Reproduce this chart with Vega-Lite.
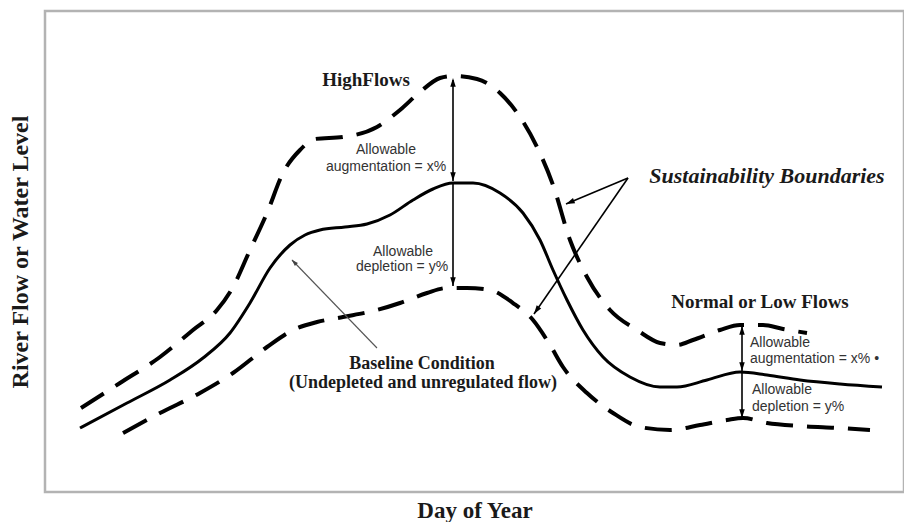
{
  "$schema": "https://vega.github.io/schema/vega-lite/v6.json",
  "width": 859,
  "height": 481,
  "autosize": {"type": "none"},
  "padding": {"left": 45, "top": 11, "right": 0, "bottom": 30},
  "background": "white",
  "config": {"view": {"stroke": "#b3b3b3", "strokeWidth": 2.5}},
  "datasets": {
    "baseline": [
      {"t": 35, "v": 64}, {"t": 82, "v": 89}, {"t": 125, "v": 112}, {"t": 158, "v": 134},
      {"t": 185, "v": 159}, {"t": 205, "v": 189}, {"t": 225, "v": 224}, {"t": 245, "v": 247},
      {"t": 260, "v": 257}, {"t": 275, "v": 262}, {"t": 300, "v": 265}, {"t": 322, "v": 268},
      {"t": 345, "v": 277}, {"t": 368, "v": 292}, {"t": 388, "v": 303}, {"t": 408, "v": 309},
      {"t": 428, "v": 309}, {"t": 455, "v": 299}, {"t": 478, "v": 279}, {"t": 495, "v": 252},
      {"t": 508, "v": 222}, {"t": 522, "v": 192}, {"t": 538, "v": 162}, {"t": 558, "v": 135},
      {"t": 585, "v": 115}, {"t": 615, "v": 105}, {"t": 632, "v": 105}, {"t": 662, "v": 112},
      {"t": 695, "v": 120}, {"t": 722, "v": 117}, {"t": 755, "v": 112}, {"t": 795, "v": 108},
      {"t": 837, "v": 105}
    ],
    "bounds": [
      {"series": "upper", "t": 36, "v": 84}, {"series": "upper", "t": 75, "v": 109},
      {"series": "upper", "t": 115, "v": 135}, {"series": "upper", "t": 148, "v": 162},
      {"series": "upper", "t": 172, "v": 182}, {"series": "upper", "t": 188, "v": 205},
      {"series": "upper", "t": 205, "v": 242}, {"series": "upper", "t": 222, "v": 279},
      {"series": "upper", "t": 238, "v": 319}, {"series": "upper", "t": 255, "v": 342},
      {"series": "upper", "t": 270, "v": 353}, {"series": "upper", "t": 298, "v": 355},
      {"series": "upper", "t": 332, "v": 365}, {"series": "upper", "t": 355, "v": 382},
      {"series": "upper", "t": 375, "v": 400}, {"series": "upper", "t": 395, "v": 414},
      {"series": "upper", "t": 408, "v": 416}, {"series": "upper", "t": 432, "v": 413},
      {"series": "upper", "t": 455, "v": 399}, {"series": "upper", "t": 475, "v": 375},
      {"series": "upper", "t": 492, "v": 345}, {"series": "upper", "t": 508, "v": 307},
      {"series": "upper", "t": 525, "v": 252}, {"series": "upper", "t": 542, "v": 215},
      {"series": "upper", "t": 565, "v": 182}, {"series": "upper", "t": 592, "v": 162},
      {"series": "upper", "t": 615, "v": 149}, {"series": "upper", "t": 632, "v": 147},
      {"series": "upper", "t": 648, "v": 152}, {"series": "upper", "t": 675, "v": 162},
      {"series": "upper", "t": 695, "v": 167}, {"series": "upper", "t": 718, "v": 167},
      {"series": "upper", "t": 738, "v": 163}, {"series": "upper", "t": 762, "v": 159},
      {"series": "lower", "t": 78, "v": 59}, {"series": "lower", "t": 115, "v": 79},
      {"series": "lower", "t": 155, "v": 99}, {"series": "lower", "t": 188, "v": 119},
      {"series": "lower", "t": 222, "v": 145}, {"series": "lower", "t": 248, "v": 162},
      {"series": "lower", "t": 272, "v": 170}, {"series": "lower", "t": 298, "v": 175},
      {"series": "lower", "t": 332, "v": 182}, {"series": "lower", "t": 355, "v": 189},
      {"series": "lower", "t": 382, "v": 199}, {"series": "lower", "t": 402, "v": 204},
      {"series": "lower", "t": 422, "v": 204}, {"series": "lower", "t": 445, "v": 202},
      {"series": "lower", "t": 468, "v": 189}, {"series": "lower", "t": 488, "v": 172},
      {"series": "lower", "t": 505, "v": 147}, {"series": "lower", "t": 518, "v": 125},
      {"series": "lower", "t": 542, "v": 99}, {"series": "lower", "t": 568, "v": 79},
      {"series": "lower", "t": 595, "v": 65}, {"series": "lower", "t": 625, "v": 62},
      {"series": "lower", "t": 655, "v": 67}, {"series": "lower", "t": 682, "v": 72},
      {"series": "lower", "t": 698, "v": 74}, {"series": "lower", "t": 722, "v": 69},
      {"series": "lower", "t": 755, "v": 66}, {"series": "lower", "t": 795, "v": 64},
      {"series": "lower", "t": 825, "v": 62}
    ],
    "arrows": [
      {"t": 408, "v": 412, "t2": 408, "v2": 311},
      {"t": 408, "v": 308, "t2": 408, "v2": 206},
      {"t": 697, "v": 166, "t2": 697, "v2": 121},
      {"t": 697, "v": 119, "t2": 697, "v2": 74},
      {"t": 583, "v": 314, "t2": 521, "v2": 288},
      {"t": 583, "v": 314, "t2": 489, "v2": 178}
    ],
    "pointer": [
      {"t": 332, "v": 144, "t2": 247, "v2": 232}
    ],
    "heads": [
      {"t": 408, "v": 409, "heading": 0},
      {"t": 408, "v": 316, "heading": 180},
      {"t": 408, "v": 211, "heading": 180},
      {"t": 697, "v": 161, "heading": 0},
      {"t": 697, "v": 126, "heading": 180},
      {"t": 697, "v": 79, "heading": 180},
      {"t": 525.6, "v": 289.9, "heading": 247},
      {"t": 491.8, "v": 182.1, "heading": 215}
    ],
    "pointerHead": [
      {"t": 249.4, "v": 229.5, "heading": 316}
    ],
    "serifTitles": [
      {"t": 321, "v": 412, "label": "HighFlows"},
      {"t": 715, "v": 190, "label": "Normal or Low Flows"}
    ],
    "serifLabels": [
      {"t": 377, "v": 128, "label": "Baseline Condition"},
      {"t": 378, "v": 109, "label": "(Undepleted and unregulated flow)"}
    ],
    "italicLabels": [
      {"t": 722, "v": 316, "label": "Sustainability Boundaries"}
    ],
    "notesCenter": [
      {"t": 341, "v": 342, "label": "Allowable"},
      {"t": 341, "v": 325, "label": "augmentation = x%"},
      {"t": 358, "v": 240, "label": "Allowable"},
      {"t": 357, "v": 225, "label": "depletion = y%"}
    ],
    "notesLeft": [
      {"t": 705, "v": 149, "label": "Allowable"},
      {"t": 705, "v": 133, "label": "augmentation = x% •"},
      {"t": 707, "v": 102, "label": "Allowable"},
      {"t": 707, "v": 85, "label": "depletion = y%"}
    ]
  },
  "encoding": {
    "x": {"field": "t", "type": "quantitative", "scale": {"domain": [0, 859], "nice": false, "zero": false},
          "axis": {"title": "Day of Year", "labels": false, "ticks": false, "domain": false, "grid": false,
                   "titleFont": "Liberation Serif", "titleFontSize": 23, "titleFontWeight": "bold",
                   "titleColor": "#1a1a1a", "titlePadding": 7}},
    "y": {"field": "v", "type": "quantitative", "scale": {"domain": [0, 481], "nice": false, "zero": false},
          "axis": {"title": "River Flow or Water Level", "labels": false, "ticks": false, "domain": false, "grid": false,
                   "titleFont": "Liberation Serif", "titleFontSize": 24, "titleFontWeight": "bold",
                   "titleColor": "#1a1a1a", "titlePadding": 13}}
  },
  "layer": [
    {
      "data": {"name": "baseline"},
      "mark": {"type": "line", "interpolate": "monotone", "color": "#000000", "strokeWidth": 3}
    },
    {
      "data": {"name": "bounds"},
      "mark": {"type": "line", "interpolate": "monotone", "color": "#000000", "strokeWidth": 4, "strokeDash": [27, 14], "strokeCap": "butt"},
      "encoding": {
        "detail": {"field": "series", "type": "nominal"}
      }
    },
    {
      "data": {"name": "arrows"},
      "mark": {"type": "rule", "color": "#000000", "strokeWidth": 1.6},
      "encoding": {
        "x2": {"field": "t2"},
        "y2": {"field": "v2"}
      }
    },
    {
      "data": {"name": "pointer"},
      "mark": {"type": "rule", "color": "#555555", "strokeWidth": 1.1},
      "encoding": {
        "x2": {"field": "t2"},
        "y2": {"field": "v2"}
      }
    },
    {
      "data": {"name": "heads"},
      "mark": {"type": "point", "shape": "M0,-1L0.55,0.75L-0.55,0.75Z", "filled": true, "color": "#000000", "size": 100, "opacity": 1},
      "encoding": {
        "angle": {"field": "heading", "type": "quantitative", "scale": null}
      }
    },
    {
      "data": {"name": "pointerHead"},
      "mark": {"type": "point", "shape": "M0,-1L0.55,0.75L-0.55,0.75Z", "filled": true, "color": "#444444", "size": 60, "opacity": 1},
      "encoding": {
        "angle": {"field": "heading", "type": "quantitative", "scale": null}
      }
    },
    {
      "data": {"name": "serifTitles"},
      "mark": {"type": "text", "font": "Liberation Serif", "fontSize": 19, "fontWeight": "bold", "color": "#1a1a1a", "align": "center", "baseline": "middle"},
      "encoding": {
        "text": {"field": "label"}
      }
    },
    {
      "data": {"name": "serifLabels"},
      "mark": {"type": "text", "font": "Liberation Serif", "fontSize": 18, "fontWeight": "bold", "color": "#1a1a1a", "align": "center", "baseline": "middle"},
      "encoding": {
        "text": {"field": "label"}
      }
    },
    {
      "data": {"name": "italicLabels"},
      "mark": {"type": "text", "font": "Liberation Serif", "fontSize": 22, "fontWeight": "bold", "fontStyle": "italic", "color": "#1a1a1a", "align": "center", "baseline": "middle"},
      "encoding": {
        "text": {"field": "label"}
      }
    },
    {
      "data": {"name": "notesCenter"},
      "mark": {"type": "text", "font": "Liberation Sans", "fontSize": 14, "color": "#333333", "align": "center", "baseline": "middle"},
      "encoding": {
        "text": {"field": "label"}
      }
    },
    {
      "data": {"name": "notesLeft"},
      "mark": {"type": "text", "font": "Liberation Sans", "fontSize": 14, "color": "#333333", "align": "left", "baseline": "middle"},
      "encoding": {
        "text": {"field": "label"}
      }
    }
  ]
}
